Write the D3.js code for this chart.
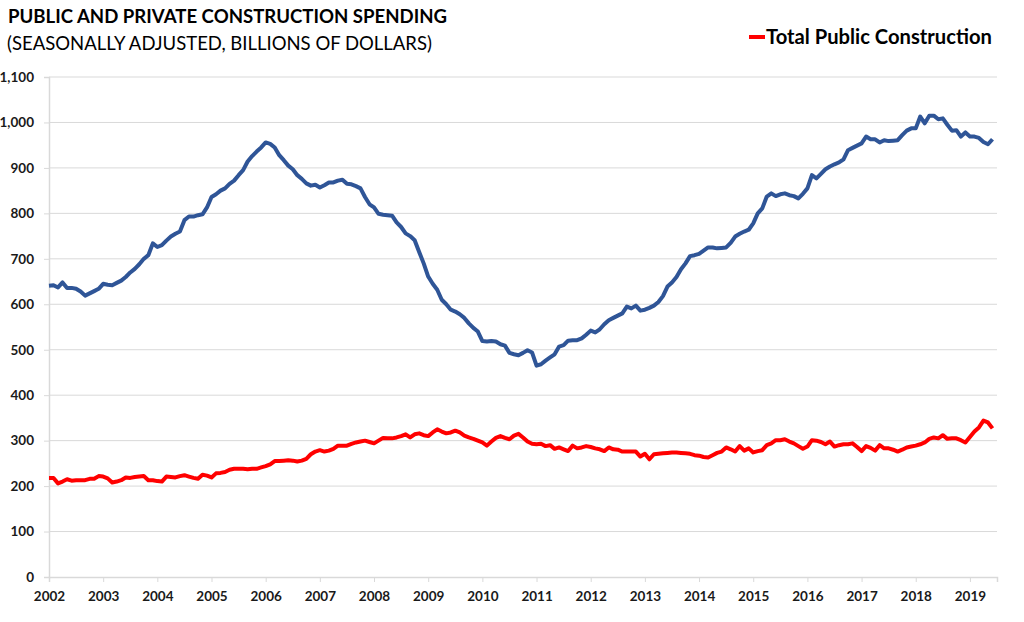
<!DOCTYPE html>
<html>
<head>
<meta charset="utf-8">
<script src="https://cdn.jsdelivr.net/npm/d3@7"></script>
<style>
  body { margin: 0; background: #fff; }
  svg { display: block; font-family: Lato, 'Open Sans', sans-serif; }
</style>
</head>
<body>
<script>
const width = 1024;
const height = 622;
const margin = {top: 77, right: 27, bottom: 45, left: 49};

const startYear = 2002;
const yearTicks = d3.range(2002, 2020);
const yTicks = d3.range(0, 1101, 100);

// monthly values, Jan 2002 .. Jun 2019
const privateVals = [
  641, 642, 637, 648, 636, 636, 634, 628, 619, 624, 629, 634,
  645, 643, 642, 647, 652, 660, 670, 678, 688, 700, 708, 734,
  726, 730, 740, 749, 755, 760, 785, 793, 793, 796, 798, 813,
  836, 842, 850, 855, 865, 872, 884, 895, 914, 926, 936, 945,
  956, 953, 945, 928, 917, 905, 897, 884, 876, 866, 861, 863,
  857, 862, 868, 868, 872, 874, 865, 864, 860, 855, 836, 820,
  813, 799, 797, 796, 795, 780, 770, 756, 750, 741, 715, 690,
  661, 645, 632, 610, 600, 588, 584, 578, 570, 558, 548, 540,
  519, 518, 519, 518, 512, 509, 493, 490, 488, 493, 499, 494,
  465, 468, 476, 483, 490, 507, 510, 520, 521, 521, 525, 533,
  542, 538, 545, 556, 565, 570, 575, 580, 595, 591, 597, 586,
  588, 592, 597, 605, 618, 639, 648, 660, 677, 690, 706, 708,
  711, 718, 725, 725, 723, 724, 725, 735, 749, 755, 760, 764,
  778, 800, 811, 837, 844, 838, 842, 844, 840, 838, 833, 843,
  855, 884, 877, 887, 897, 903, 908, 912, 919, 939, 944, 949,
  954, 969, 963, 963, 956, 961, 959, 960, 961, 972, 982, 987,
  987, 1013, 998, 1015, 1015, 1007, 1009, 995, 982, 983, 969, 978,
  969, 969, 966, 957, 952, 963
];

const publicVals = [
  218, 218, 206, 210, 215, 212, 213, 213, 213, 216, 216, 222,
  221, 217, 208, 210, 213, 219, 218, 220, 221, 222, 213, 213,
  211, 210, 221, 220, 219, 222, 224, 221, 218, 216, 225, 223,
  219, 228, 229, 231, 236, 238, 238, 238, 237, 238, 238, 241,
  244, 248, 255, 255, 256, 257, 256, 254, 256, 260, 270, 276,
  279, 276, 278, 282, 289, 289, 289, 293, 296, 298, 300, 297,
  294, 300, 306, 305, 305, 307, 310, 314, 307, 314, 316, 312,
  310, 318, 325, 320, 316, 318, 322, 318, 311, 307, 304, 300,
  296, 289, 298, 306, 310, 306, 303, 311, 315, 307, 298, 293,
  292, 293, 288, 290, 282, 285, 281, 277, 289, 283, 285, 288,
  286, 283, 281, 277, 285, 281, 280, 276, 276, 276, 276, 265,
  271, 259, 270, 271, 272, 273, 274, 274, 273, 272, 271, 268,
  267, 264, 263, 268, 273, 276, 285, 281, 276, 288, 278, 283,
  274, 277, 279, 290, 294, 301, 301, 303, 298, 294, 288, 282,
  287, 301, 300, 297, 292, 298, 287, 290, 292, 292, 294, 286,
  277, 288, 284, 278, 290, 283, 283, 280, 276, 280, 285, 287,
  289, 292, 296, 304, 307, 305, 312, 304, 305, 305, 301, 296,
  308, 320, 329, 344, 340, 327
];

const svg = d3.select('body').append('svg')
  .attr('width', width)
  .attr('height', height);

const x = d3.scaleLinear()
  .domain([startYear, startYear + 210 / 12])
  .range([margin.left, width - margin.right]);

const y = d3.scaleLinear()
  .domain([0, 1100])
  .range([height - margin.bottom, margin.top]);

// gridlines
svg.append('g')
  .selectAll('line')
  .data(yTicks.filter(d => d > 0))
  .enter()
  .append('line')
  .attr('x1', margin.left)
  .attr('x2', width - margin.right)
  .attr('y1', d => y(d))
  .attr('y2', d => y(d))
  .attr('stroke', '#d9d9d9')
  .attr('stroke-width', 1);

const yAxis = d3.axisLeft(y)
  .tickValues(yTicks)
  .tickSize(5)
  .tickPadding(10)
  .tickFormat(d3.format(','));

const yg = svg.append('g')
  .attr('transform', `translate(${margin.left},0)`)
  .call(yAxis);

const xAxis = d3.axisBottom(x)
  .tickValues(yearTicks)
  .tickSize(5)
  .tickPadding(9)
  .tickFormat(d3.format('d'));

const xg = svg.append('g')
  .attr('transform', `translate(0,${height - margin.bottom})`)
  .call(xAxis);

[yg, xg].forEach(g => {
  g.select('.domain').attr('stroke', '#d9d9d9').attr('stroke-width', 1.5);
  g.selectAll('.tick line').attr('stroke', '#d9d9d9');
  g.selectAll('.tick text')
    .attr('fill', '#1a1a1a')
    .style('font-size', '13.5px')
    .style('font-weight', '700')
    .style('font-family', "Lato, 'Open Sans', sans-serif");
});

const line = d3.line()
  .x((d, i) => x(startYear + i / 12))
  .y(d => y(d));

svg.append('path')
  .datum(privateVals)
  .attr('d', line)
  .attr('fill', 'none')
  .attr('stroke', '#2f5597')
  .attr('stroke-width', 4)
  .attr('stroke-linejoin', 'round');

svg.append('path')
  .datum(publicVals)
  .attr('d', line)
  .attr('fill', 'none')
  .attr('stroke', '#ff0000')
  .attr('stroke-width', 4)
  .attr('stroke-linejoin', 'round');

// titles
svg.append('text').text('PUBLIC AND PRIVATE CONSTRUCTION SPENDING')
  .attr('x', 8).attr('y', 23)
  .style('font-size', '18.6px').style('font-weight', '700').attr('fill', '#000');

svg.append('text').text('(SEASONALLY ADJUSTED, BILLIONS OF DOLLARS)')
  .attr('x', 7).attr('y', 50)
  .style('font-size', '18.5px').attr('fill', '#000');

// legend
svg.append('line')
  .attr('x1', 749).attr('x2', 765)
  .attr('y1', 37).attr('y2', 37)
  .attr('stroke', '#ff0000').attr('stroke-width', 4);

svg.append('text').text('Total Public Construction')
  .attr('x', 766).attr('y', 44)
  .style('font-size', '20.2px').style('font-weight', '700').attr('fill', '#000');
</script>
</body>
</html>
